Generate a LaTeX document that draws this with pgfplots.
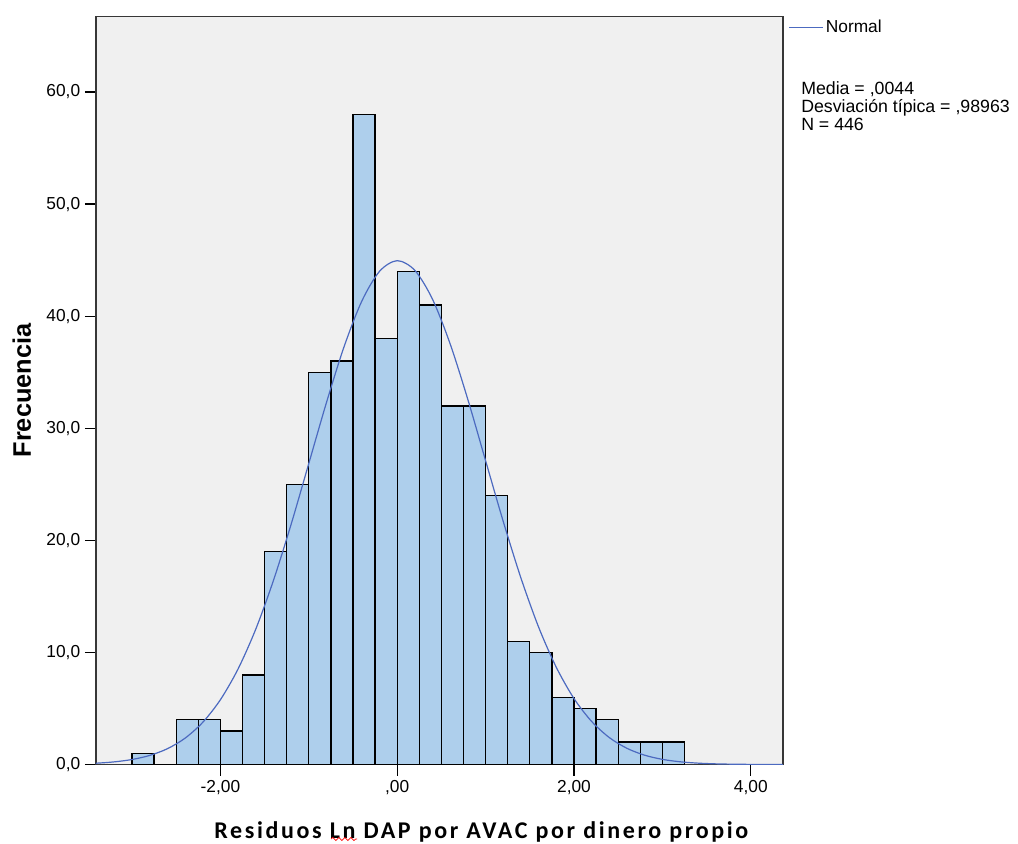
\documentclass[border=0pt]{standalone}
\usepackage{pgfplots}
\pgfplotsset{compat=1.18}
\usepackage{fontspec}
\setmainfont{Liberation Sans}
\newfontfamily\carlito[LetterSpace=11]{Carlito}
\usetikzlibrary{decorations.pathmorphing}
\definecolor{bgGray}{RGB}{240,240,240}
\definecolor{boxgray}{RGB}{55,55,55}
\definecolor{barblue}{RGB}{174,207,236}
\definecolor{curveblue}{RGB}{76,106,192}
\begin{document}
\begin{tikzpicture}[x=0.75pt,y=0.75pt]
\path[use as bounding box] (0,0) rectangle (1018,843);
\begin{axis}[
  at={(108.5,70)}, anchor=south west,
  width=515.25pt, height=561pt, scale only axis,
  xmin=-3.408, xmax=4.363, ymin=0, ymax=66.73,
  axis background/.style={fill=bgGray},
  axis line style={draw=boxgray, line width=1.3pt},
  tick align=outside,
  xtick pos=bottom, ytick pos=left,
  tick style={draw=black, line width=0.9pt},
  major tick length=8.25pt,
  xtick={-2,0,2,4},
  xticklabels={{-2,00},{,00},{2,00},{4,00}},
  ytick={0,10,20,30,40,50,60},
  yticklabels={{0,0},{10,0},{20,0},{30,0},{40,0},{50,0},{60,0}},
  tick label style={font=\fontsize{13}{13}\selectfont},
  xlabel={\carlito\bfseries Residuos Ln DAP por AVAC por dinero propio},
  xlabel style={at={(rel axis cs:0.561,-0.0989)}, anchor=base, font=\fontsize{18}{18}\selectfont},
  ylabel={\bfseries Frecuencia},
  ylabel style={at={(rel axis cs:-0.0946,0.5)}, anchor=base, rotate=0, font=\fontsize{19}{19}\selectfont},
  legend style={at={(rel axis cs:1,1)}, anchor=north west, draw=none, fill=none,
    font=\fontsize{13}{13}\selectfont, xshift=4pt, yshift=-0.5pt, inner sep=0pt},
  legend cell align=left,
  legend image code/.code={\draw[curveblue, line width=1pt] (0pt,0pt) -- (25pt,0pt);},
]
\addplot[ybar interval, fill=barblue, draw=black, line width=1pt, forget plot] coordinates {
(-3.00,1) (-2.75,0) (-2.50,4) (-2.25,4) (-2.00,3) (-1.75,8) (-1.50,19) (-1.25,25)
(-1.00,35) (-0.75,36) (-0.50,58) (-0.25,38) (0.00,44) (0.25,41) (0.50,32) (0.75,32)
(1.00,24) (1.25,11) (1.50,10) (1.75,6) (2.00,5) (2.25,4) (2.50,2) (2.75,2) (3.00,2) (3.25,2)
};
\addplot[smooth, curveblue, line width=0.9pt] coordinates {
(-3.6,0.059) (-3.4,0.121) (-3.2,0.238) (-3.0,0.448) (-2.8,0.811) (-2.6,1.409)
(-2.4,2.349) (-2.2,3.762) (-2.0,5.780) (-1.8,8.527) (-1.6,12.077) (-1.4,16.42)
(-1.2,21.43) (-1.0,26.86) (-0.8,32.30) (-0.6,37.30) (-0.4,41.35) (-0.2,44.00)
(0.0,44.95) (0.2,44.08) (0.4,41.50) (0.6,37.50) (0.8,32.54) (1.0,27.10)
(1.2,21.67) (1.4,16.63) (1.6,12.25) (1.8,8.667) (2.0,5.883) (2.2,3.837)
(2.4,2.401) (2.6,1.442) (2.8,0.831) (3.0,0.460) (3.2,0.245) (3.4,0.125)
(3.6,0.061) (3.8,0.029) (4.0,0.013) (4.2,0.005) (4.4,0.002)
};
\addlegendentry{Normal}
\end{axis}
\begin{scope}[font=\fontsize{13.3}{13.3}\selectfont]
\node[anchor=base west, inner sep=0pt] at (801,748) {Media = ,0044};
\node[anchor=base west, inner sep=0pt] at (801,730) {Desviación típica = ,98963};
\node[anchor=base west, inner sep=0pt] at (801,712) {N = 446};
\end{scope}
\draw[red, line width=0.5pt, decorate, decoration={snake, amplitude=1.2, segment length=4.5}] (331,4) -- (357,4);
\end{tikzpicture}
\end{document}
